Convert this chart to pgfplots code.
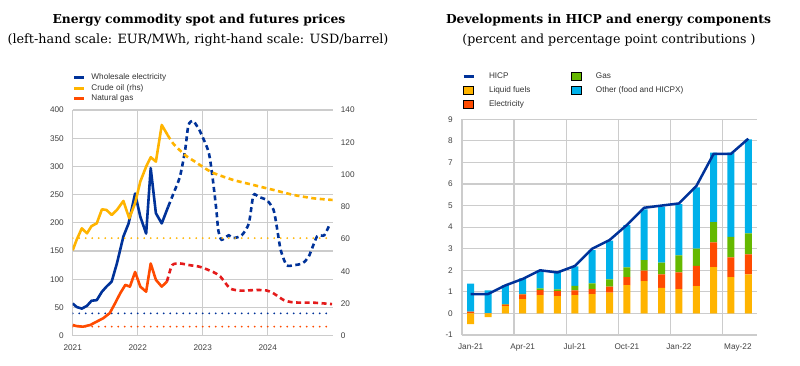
\documentclass[border=0pt]{standalone}
\usepackage{fontspec}
\setmainfont{DejaVu Serif}
\newfontfamily\sansf{Liberation Sans}
\usepackage{pgfplots}
\usepackage{pgfplotstable}
\pgfplotsset{compat=1.18}
\definecolor{ecbblue}{HTML}{003299}
\definecolor{ecbyellow}{HTML}{FFB400}
\definecolor{ecborange}{HTML}{FF4B00}
\definecolor{ecbgreen}{HTML}{65B800}
\definecolor{ecblight}{HTML}{00B1EA}
\definecolor{gasred}{HTML}{E41B1B}
\definecolor{gridc}{HTML}{CCCCCC}
\definecolor{tickc}{HTML}{404040}
\definecolor{legc}{HTML}{333333}
\pgfplotsset{
  linelegend/.style={legend image code/.code={\draw[##1,line width=3pt,solid] (0pt,0pt) -- (10pt,0pt);}},
  boxlegend/.style={legend image code/.code={\path[##1] (0pt,-4pt) rectangle (10pt,4pt);}},
  base/.style={
    scale only axis, anchor=south west,
    axis line style={draw=gridc, line width=1.2pt},
    tick style={draw=gridc, line width=1.2pt},
    major tick length=0pt, minor tick length=0pt,
    every axis grid/.style={draw=gridc, line width=1.2pt},
    every major grid/.style={draw=gridc, line width=1.2pt},
    every minor grid/.style={draw=gridc, line width=1.2pt},
    tick label style={font=\sansf\fontsize{8.2}{9.8}\selectfont, text=tickc, inner sep=0pt},
    /pgf/number format/1000 sep={},
    /pgf/number format/assume math mode=true,
  },
  dashedl/.style={line width=2.6pt, dash pattern=on 5pt off 3.5pt},
  dottedl/.style={line width=2pt, line cap=round, dash pattern=on 0pt off 6.5pt},
}
\pgfplotstableread{
i liq elec gas oth neg hicp
0 0.00 0.08 0.00 1.30 -0.50 0.9
1 0.00 0.02 0.00 1.05 -0.17 0.9
2 0.34 0.07 0.02 0.88 0 1.3
3 0.66 0.22 0.03 0.72 0 1.6
4 0.85 0.23 0.08 0.83 0 2.0
5 0.80 0.24 0.07 0.81 0 1.9
6 0.85 0.22 0.21 0.90 0 2.2
7 0.90 0.23 0.26 1.55 0 3.0
8 0.97 0.27 0.34 1.79 0 3.4
9 1.31 0.37 0.45 1.97 0 4.1
10 1.50 0.48 0.49 2.35 0 4.9
11 1.19 0.62 0.54 2.60 0 5.0
12 1.13 0.77 0.79 2.38 0 5.1
13 1.27 0.94 0.80 2.83 0 5.9
14 2.15 1.14 0.94 3.22 0 7.4
15 1.68 0.92 0.95 3.90 0 7.4
16 1.81 0.93 0.97 4.36 0 8.1
}\rdata
\begin{document}
\begin{tikzpicture}[x=1pt,y=1pt]
\useasboundingbox (0pt,0pt) rectangle (800pt,-365pt);
\node[font=\bfseries\fontsize{12.3}{14}\selectfont] at (199pt,-20pt) {Energy commodity spot and futures prices};
\node[font=\fontsize{12.8}{14}\selectfont] at (198pt,-40pt) {(left-hand scale: EUR/MWh, right-hand scale: USD/barrel)};
\node[font=\bfseries\fontsize{12.3}{14}\selectfont] at (608.5pt,-20pt) {Developments in HICP and energy components};
\node[font=\fontsize{12.6}{14}\selectfont] at (609pt,-40pt) {(percent and percentage point contributions )};

% ---------------- left chart, left scale
\begin{axis}[base,
  at={(72.7pt,-335.7pt)}, width=260pt, height=225.7pt,
  axis x line*=bottom, axis y line*=left,
  xmin=2021, xmax=2025, ymin=0, ymax=400,
  xtick={2021,2022,2023,2024}, ytick={0,50,...,400},
  xmajorgrids=true, ymajorgrids=true,
  yticklabel style={xshift=-8.7pt},
  xticklabel style={yshift=-8.5pt},
  legend style={at={(0.001,1.16)}, anchor=north west, draw=none, fill=none,
    inner sep=0pt, outer sep=0pt, row sep=2.4pt,
    font=\sansf\fontsize{8.2}{9.8}\selectfont, text=legc,
    nodes={inner sep=0pt, text height=6pt, text depth=2pt},
    /tikz/every odd column/.append style={column sep=5.5pt}},
  legend cell align=left,
]
\addplot[ecbblue, dottedl, forget plot] coordinates {(2021,39.6) (2025,39.6)};
\addplot[ecborange, dottedl, forget plot] coordinates {(2021,16) (2025,16)};
\addplot[ecbblue, dashedl, smooth, tension=0.4, forget plot] coordinates {
(2022.47,229) (2022.55,252) (2022.65,282) (2022.73,329) (2022.78,373) (2022.85,381)
(2022.92,370) (2022.96,362) (2023.09,326) (2023.15,282) (2023.21,223) (2023.24,187)
(2023.29,170) (2023.40,178) (2023.47,173) (2023.60,178) (2023.71,199) (2023.78,249)
(2023.86,246) (2023.99,240) (2024.09,223) (2024.14,193) (2024.20,152) (2024.29,125)
(2024.40,125) (2024.53,128) (2024.63,140) (2024.76,176) (2024.87,178) (2024.96,199)};
\addplot[gasred, dashedl, smooth, tension=0.4, forget plot] coordinates {
(2022.45,96) (2022.53,125) (2022.65,128) (2022.80,125) (2022.96,122) (2023.16,113)
(2023.27,105) (2023.42,84) (2023.58,80) (2023.84,81) (2023.99,80) (2024.09,75)
(2024.25,63) (2024.40,59) (2024.71,58.5) (2024.99,56)};
\addplot[ecbblue, line width=2.6pt, line join=round, linelegend] coordinates {
(2021.00,57) (2021.06,51) (2021.14,48) (2021.22,53) (2021.29,62) (2021.37,63)
(2021.45,78) (2021.52,87) (2021.60,96) (2021.68,128) (2021.78,176) (2021.86,199)
(2021.96,252) (2022.04,211) (2022.13,181) (2022.20,297) (2022.28,217) (2022.37,199)
(2022.47,229)};
\addlegendentry{Wholesale electricity}
\addlegendimage{linelegend, ecbyellow}
\addlegendentry{Crude oil (rhs)}
\addplot[ecborange, line width=2.6pt, line join=round, linelegend] coordinates {
(2021.00,19) (2021.06,17) (2021.16,16) (2021.27,19) (2021.37,25) (2021.47,31)
(2021.57,40) (2021.65,57) (2021.73,75) (2021.81,90) (2021.88,87) (2021.96,113)
(2022.04,87) (2022.13,78) (2022.20,128) (2022.28,99) (2022.37,87) (2022.45,96)};
\addlegendentry{Natural gas}
\end{axis}

% ---------------- left chart, right scale
\begin{axis}[base,
  at={(72.7pt,-335.7pt)}, width=260pt, height=225.7pt,
  xmin=2021, xmax=2025, ymin=0, ymax=140,
  axis y line*=right, axis x line=none,
  y axis line style={draw=none},
  ytick={0,20,...,140},
  yticklabel style={xshift=8pt},
]
\addplot[ecbyellow, dottedl] coordinates {(2021,60.5) (2025,60.5)};
\addplot[ecbyellow, dashedl, smooth, tension=0.4] coordinates {
(2022.46,124.5) (2022.55,119) (2022.73,112) (2022.88,108) (2023.01,104.5) (2023.16,101)
(2023.47,96.6) (2023.78,93.5) (2024.09,90.4) (2024.40,87.3) (2024.71,85.2) (2025.00,84.2)};
\addplot[ecbyellow, line width=2.6pt, line join=round] coordinates {
(2021.00,53) (2021.06,59.4) (2021.14,66.6) (2021.22,63.5) (2021.29,68) (2021.37,69.7)
(2021.45,78.4) (2021.52,78) (2021.60,74.9) (2021.68,78) (2021.78,83.6) (2021.87,72.8)
(2021.96,82.2) (2022.04,95.6) (2022.13,104.9) (2022.20,110.7) (2022.28,108) (2022.37,130.7)
(2022.46,124.5)};
\end{axis}

% ---------------- right chart, stacked bars
\begin{axis}[base,
  at={(462pt,-335pt)}, width=295pt, height=215.7pt,
  axis x line*=bottom, axis y line*=left,
  xmin=-0.5, xmax=16.5, ymin=-1, ymax=9,
  ybar stacked, bar width=7pt,
  xtick={0,3,6,9,12,15.4},
  xticklabels={Jan-21,Apr-21,Jul-21,Oct-21,Jan-22,May-22},
  minor xtick={-0.5,2.5,5.5,8.5,11.5,14.5},
  xminorgrids=true, ymajorgrids=true,
  ytick={-1,0,...,9},
  yticklabel style={xshift=-9pt},
  xticklabel style={yshift=-8.5pt},
]
\addplot[fill=ecbyellow, draw=none] table[x=i,y=liq]{\rdata};
\addplot[fill=ecborange, draw=none] table[x=i,y=elec]{\rdata};
\addplot[fill=ecbgreen, draw=none] table[x=i,y=gas]{\rdata};
\addplot[fill=ecblight, draw=none] table[x=i,y=oth]{\rdata};
\end{axis}

% ---------------- right chart, negative bars + HICP line + legend
\begin{axis}[base,
  at={(462pt,-335pt)}, width=295pt, height=215.7pt,
  xmin=-0.5, xmax=16.5, ymin=-1, ymax=9,
  hide axis,
  legend columns=2,
  legend style={at={(0,1.22)}, anchor=north west, draw=none, fill=none,
    inner sep=0pt, outer sep=0pt, row sep=5.9pt,
    font=\sansf\fontsize{8.2}{9.8}\selectfont, text=legc,
    nodes={inner sep=0pt, text height=6pt, text depth=2pt},
    /tikz/every odd column/.append style={column sep=14pt},
    /tikz/every even column/.append style={column sep=41pt}},
  legend cell align=left,
]
\addplot[ybar, bar width=7pt, fill=ecbyellow, draw=none, forget plot] table[x=i,y=neg]{\rdata};
\addplot[ecbblue, line width=2.5pt, line join=round, forget plot] table[x=i,y=hicp]{\rdata};
\addlegendimage{linelegend, ecbblue}
\addlegendentry{HICP}
\addlegendimage{boxlegend, fill=ecbgreen}
\addlegendentry{Gas}
\addlegendimage{boxlegend, fill=ecbyellow}
\addlegendentry{Liquid fuels}
\addlegendimage{boxlegend, fill=ecblight}
\addlegendentry{Other (food and HICPX)}
\addlegendimage{boxlegend, fill=ecborange}
\addlegendentry{Electricity}
\end{axis}
\end{tikzpicture}
\end{document}
